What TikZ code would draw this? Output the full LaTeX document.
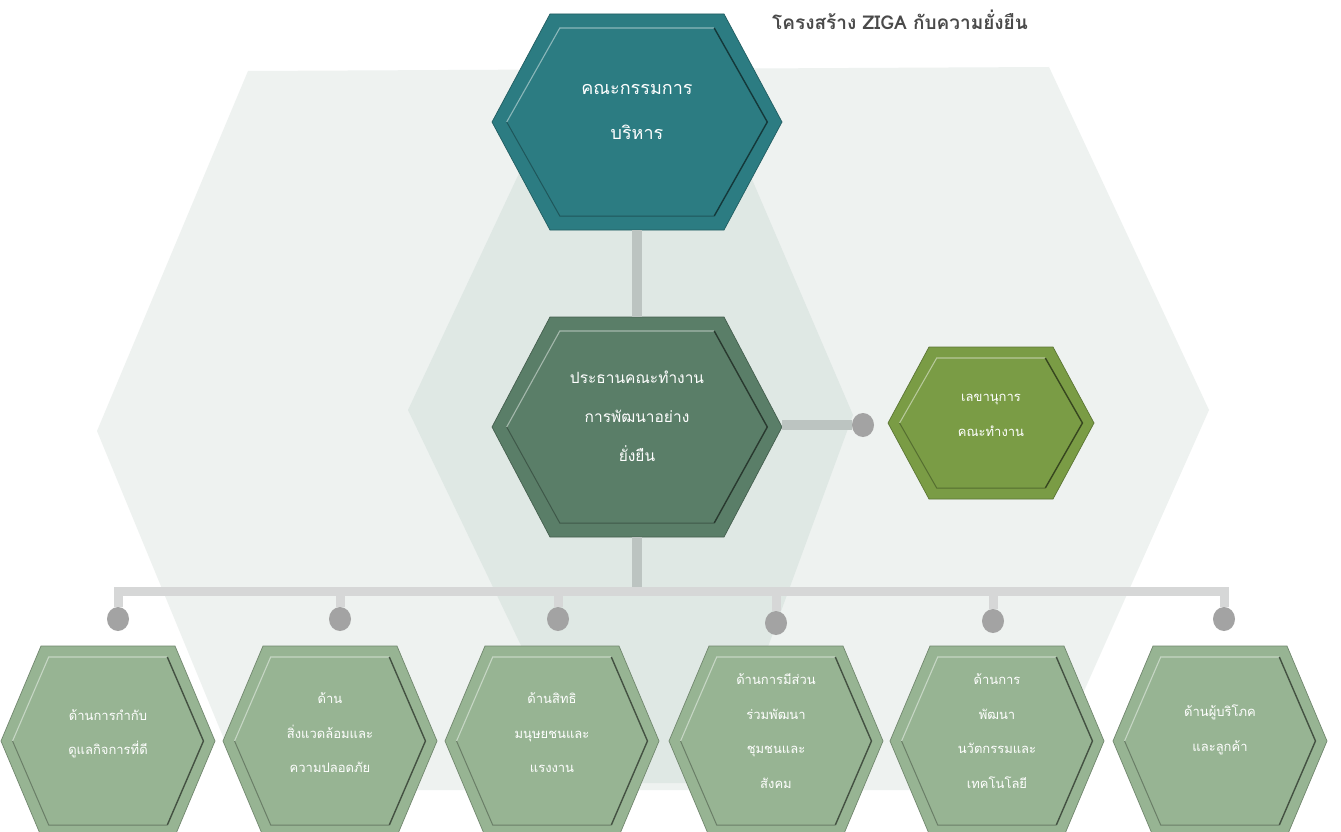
\documentclass[tikz,border=0pt]{standalone}
\usepackage{fontspec}
\newfontfamily\thai[Script=Thai]{Loma}
\usetikzlibrary{calc,shapes.geometric}
\definecolor{bgA}{HTML}{EEF2F0}
\definecolor{bgB}{HTML}{DFE8E4}
\definecolor{cTop}{HTML}{2C7C82}
\definecolor{cMid}{HTML}{5A7E68}
\definecolor{cSec}{HTML}{7A9C45}
\definecolor{cBot}{HTML}{97B493}
\definecolor{cBar}{HTML}{BCC4C1}
\definecolor{cBus}{HTML}{D6D7D7}
\definecolor{cDot}{HTML}{A3A3A3}
\definecolor{cTitle}{HTML}{4A4A4A}
\newcommand{\hexbody}[7]{%
  \fill[#6, draw=#6!75!black, line width=0.7pt]
    ({#1-#3},{#2}) -- ({#1-#4},{#2-#5}) -- ({#1+#4},{#2-#5}) -- ({#1+#3},{#2})
    -- ({#1+#4},{#2+#5}) -- ({#1-#4},{#2+#5}) -- cycle;
  \draw[#6!55!white, line width=1.1pt] ({#1-#3+1.05*#7},{#2}) -- ({#1-#4+0.7*#7},{#2-#5+#7}) -- ({#1+#4-0.7*#7},{#2-#5+#7});
  \draw[#6!45!black, line width=1.4pt] ({#1+#4-0.7*#7},{#2-#5+#7}) -- ({#1+#3-1.05*#7},{#2}) -- ({#1+#4-0.7*#7},{#2+#5-#7});
  \draw[#6!70!black, line width=1pt] ({#1+#4-0.7*#7},{#2+#5-#7}) -- ({#1-#4+0.7*#7},{#2+#5-#7}) -- ({#1-#3+1.05*#7},{#2});
}
\tikzset{
  slot/.style={inner sep=0pt, outer sep=0pt, draw=none},
  txt/.style={text=white, align=center, inner sep=0pt},
  toptxt/.style={txt, font=\thai\fontsize{18}{45}\selectfont},
  midtxt/.style={txt, font=\thai\fontsize{15.5}{39}\selectfont},
  sectxt/.style={txt, font=\thai\fontsize{13}{35}\selectfont},
  bottxt/.style={txt, font=\thai\fontsize{13}{34.5}\selectfont},
  bar/.style={draw=cBar, line width=10pt},
  busline/.style={draw=cBus, line width=9pt, line cap=rect},
  dropline/.style={draw=cBus, line width=9pt},
  dot/.style={ellipse, fill=cDot, minimum width=22pt, minimum height=24pt, inner sep=0pt},
}
\begin{document}
\begin{tikzpicture}[x=1pt,y=-1pt]
\useasboundingbox (0,0) rectangle (1341,832);
\clip (0,0) rectangle (1341,832);
\fill[white] (0,0) rectangle (1341,832);
% background hexagons
\fill[bgA] (248,71) -- (1049,67) -- (1209,410) -- (1040,790) -- (245,790) -- (97,431) -- cycle;
\fill[bgB] (583,37) -- (691,37) -- (853,415) -- (718,783) -- (587,783) -- (408,410) -- cycle;
% hexagon bodies
\hexbody{637}{122}{145}{87}{108}{cTop}{14}
\hexbody{637}{427}{145}{87}{110}{cMid}{14}
\hexbody{991}{423}{103}{62}{76}{cSec}{11}
\foreach \cx in {108,330,552,776,997,1220}{\hexbody{\cx}{741}{107}{67}{95}{cBot}{11}}
% node slots
\node[slot, minimum width=290pt, minimum height=216pt] (top) at (637,122) {};
\node[slot, minimum width=290pt, minimum height=220pt] (mid) at (637,427) {};
\node[slot, minimum width=206pt, minimum height=152pt] (sec) at (991,423) {};
\node[slot, minimum width=214pt, minimum height=190pt] (b1) at (108,741) {};
\node[slot, minimum width=214pt, minimum height=190pt] (b2) at (330,741) {};
\node[slot, minimum width=214pt, minimum height=190pt] (b3) at (552,741) {};
\node[slot, minimum width=214pt, minimum height=190pt] (b4) at (776,741) {};
\node[slot, minimum width=214pt, minimum height=190pt] (b5) at (997,741) {};
\node[slot, minimum width=214pt, minimum height=190pt] (b6) at (1220,741) {};
% dots
\node[dot] (sd) at (863,425) {};
\node[dot] (d1) at (118,619) {};
\node[dot] (d2) at (340,619) {};
\node[dot] (d3) at (558,619) {};
\node[dot] (d4) at (776,623) {};
\node[dot] (d5) at (993,621) {};
\node[dot] (d6) at (1224,619) {};
\coordinate (bus) at (637,591);
% connectors
\draw[bar] (top.south) -- (mid.north);
\draw[bar] (mid.east |- sd) -- (sd.west);
\foreach \d in {d1,d2,d3,d4,d5,d6}{\draw[dropline] (\d |- bus) -- (\d.north);}
\draw[busline] (d1 |- bus) -- (d6 |- bus);
\draw[bar] (mid.south) -- ([yshift=4.5pt]bus);
% texts
\node[toptxt] (topt) at ([yshift=10pt]top.center) {คณะกรรมการ\\บริหาร};
\node[midtxt] (midt) at ([yshift=11pt]mid.center) {ประธานคณะทำงาน\\การพัฒนาอย่าง\\ยั่งยืน};
\node[sectxt] (sect) at ([yshift=8pt]sec.center) {เลขานุการ\\คณะทำงาน};
\node[bottxt] (b1t) at ([yshift=7pt]b1.center) {ด้านการกำกับ\\ดูแลกิจการที่ดี};
\node[bottxt] (b2t) at ([yshift=8pt]b2.center) {ด้าน\\สิ่งแวดล้อมและ\\ความปลอดภัย};
\node[bottxt] (b3t) at ([yshift=8pt]b3.center) {ด้านสิทธิ\\มนุษยชนและ\\แรงงาน};
\node[bottxt] (b4t) at ([yshift=10pt]b4.center) {ด้านการมีส่วน\\ร่วมพัฒนา\\ชุมชนและ\\สังคม};
\node[bottxt] (b5t) at ([yshift=10pt]b5.center) {ด้านการ\\พัฒนา\\นวัตกรรมและ\\เทคโนโลยี};
\node[bottxt] (b6t) at ([yshift=11pt]b6.center) {ด้านผู้บริโภค\\และลูกค้า};
% title
\node[font=\thai\bfseries\fontsize{19}{23}\selectfont, text=cTitle, inner sep=0pt] (title) at (900,20) {โครงสร้าง ZIGA กับความยั่งยืน};
\end{tikzpicture}
\end{document}
